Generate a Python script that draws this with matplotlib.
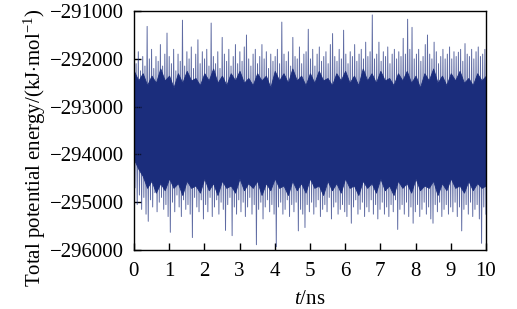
import numpy as np
import matplotlib
matplotlib.use("Agg")
import matplotlib.pyplot as plt

plt.rcParams['font.family'] = ['Liberation Serif', 'DejaVu Serif']
plt.rcParams['mathtext.fontset'] = 'custom'
plt.rcParams['mathtext.rm'] = 'Liberation Serif'
plt.rcParams['mathtext.it'] = 'Liberation Serif:italic'

# Ust ve alt tepe degerleri (kJ/mol), her satir ~1 ns
upper = [
    -291900, -292100, -291850, -292250, -291950, -292150, -291320, -292000, -291800, -292200, -291950, -292050, -291700, -292150, -291900, -291460,
    -291950, -292100, -291800, -292250, -291900, -292050, -291190, -292150, -291850, -292000, -291750, -292200, -291900, -291600, -292100, -291850,
    -292000, -291800, -292150, -291250, -291950, -292100, -291850, -292200, -291550, -291900, -292050, -291800, -292150, -291950, -291700, -292100,
    -291850, -292050, -291750, -291500, -292000, -292150, -291900, -291800, -292100, -291950, -291700, -292000, -291850, -292200, -291900, -292050,
    -291950, -291800, -292100, -291230, -291900, -292050, -291850, -292150, -291550, -291950, -292000, -291750, -292100, -291900, -291850, -291380,
    -292000, -291800, -292150, -291900, -291750, -292050, -291950, -291850, -292100, -291700, -291470, -291950, -292050, -291800, -292000, -291400,
    -291900, -292100, -291850, -291950, -291700, -292050, -291900, -291800, -292000, -291650, -291950, -291850, -291080, -292000, -291900, -291650,
    -292050, -291850, -291950, -291750, -292100, -291900, -291800, -292000, -291850, -291950, -291570, -291900, -291170, -291800, -291340, -292000,
    -291900, -291800, -292050, -291950, -291700, -291500, -291900, -292000, -291650, -291850, -292100, -291950, -291800, -292000, -291900, -291750,
    -292000, -291850, -291950, -291860, -291800, -292050, -291680, -291900, -291950, -291800, -292000, -291850, -291750, -291950, -291900, -291800,
]
lower = [
    -294700, -295050, -294850, -295150, -294900, -295250, -295400, -294950, -295100, -294800, -295200, -295000, -294900, -295150, -295050, -295300,
    -295630, -295000, -295200, -294850, -295100, -295300, -294950, -295150, -295050, -295250, -295740, -294900, -295100, -295200, -294950, -295350,
    -295050, -295200, -294900, -295300, -295100, -294950, -295250, -295000, -295150, -295590, -295050, -294900, -295700, -295100, -295250, -294950,
    -295200, -295000, -295300, -295100, -294900, -295250, -295050, -295890, -295150, -295000, -295350, -295100, -294950, -295200, -295050, -295250,
    -295930, -295100, -295000, -295250, -295150, -294950, -295300, -295050, -295200, -295000, -295600, -295150, -295250, -295530, -295050, -295200,
    -295000, -295250, -295100, -294950, -295300, -295150, -295050, -295200, -294900, -295350, -295100, -295000, -295250, -295150, -295050, -295200,
    -295300, -295050, -295440, -295100, -294950, -295250, -295150, -295000, -295300, -295100, -295200, -294950, -295250, -295050, -295350, -295150,
    -295000, -295250, -295100, -295300, -295050, -295200, -294950, -295570, -295150, -295050, -295250, -295000, -295300, -295100, -295440, -295200,
    -295050, -295300, -295150, -295000, -295250, -295100, -295350, -295440, -295050, -295200, -295000, -295300, -295150, -295050, -295250, -295100,
    -295200, -295000, -295300, -295100, -295600, -295150, -295050, -295250, -295000, -295300, -295150, -295050, -295350, -295860, -295100, -295250,
]
# yogun bolgenin (koyu bant) sinirlari, her 0.125 ns
core_top = [
    -292250, -292450, -292300, -292550, -292350, -292500, -292200, -292450, -292350, -292600,
    -292300, -292500, -292250, -292450, -292400, -292550, -292300, -292450, -292200, -292500,
    -292350, -292550, -292300, -292450, -292250, -292500, -292400, -292550, -292300, -292450,
    -292350, -292600, -292250, -292450, -292300, -292500, -292200, -292450, -292350, -292550,
    -292300, -292500, -292250, -292450, -292400, -292550, -292300, -292450, -292250, -292500,
    -292350, -292550, -292200, -292450, -292300, -292500, -292250, -292450, -292400, -292550,
    -292300, -292450, -292250, -292500, -292350, -292600, -292300, -292450, -292200, -292500,
    -292350, -292550, -292300, -292450, -292250, -292500, -292400, -292550, -292300, -292450,
    -292350,
]
core_bottom = [
    -294100, -294300, -294450, -294700, -294550, -294800, -294600, -294750, -294500, -294700,
    -294600, -294850, -294550, -294700, -294650, -294800, -294500, -294750, -294600, -294850,
    -294550, -294700, -294650, -294800, -294500, -294750, -294600, -294700, -294550, -294850,
    -294600, -294750, -294500, -294700, -294650, -294850, -294550, -294750, -294600, -294800,
    -294500, -294700, -294650, -294850, -294550, -294750, -294600, -294800, -294500, -294700,
    -294650, -294850, -294550, -294700, -294600, -294800, -294500, -294750, -294650, -294850,
    -294550, -294700, -294600, -294800, -294500, -294750, -294650, -294700, -294550, -294850,
    -294600, -294750, -294500, -294700, -294650, -294800, -294550, -294750, -294600, -294700,
    -294650,
]
x_ticks = [0, 1, 2, 3, 4, 5, 6, 7, 8, 9, 10]
y_ticks = [-296000, -295000, -294000, -293000, -292000, -291000]

# ust/alt degerleri sirayla birlestir
energy = np.empty(len(upper) + len(lower))
energy[0::2] = upper
energy[1::2] = lower
t = np.linspace(0, 10, len(energy))
t_core = np.linspace(0, 10, len(core_top))

line_color = '#1b2d7c'

fig = plt.figure(figsize=(5.17, 3.09), dpi=100)
ax = fig.add_axes([0.259, 0.191, 0.681, 0.773])
ax.plot(t, energy, color=line_color, linewidth=0.7, alpha=0.7)
ax.fill_between(t_core, core_bottom, core_top, color=line_color, linewidth=0.6)

ax.set_xlim(0, 10)
ax.set_ylim(-296000, -291000)
ax.set_xticks(x_ticks)
ax.set_yticks(y_ticks)
ax.yaxis.get_major_formatter().set_useOffset(False)
ax.tick_params(direction='in', length=5, width=1, labelsize=15)
ax.tick_params(axis='y', pad=7)
ax.tick_params(axis='x', pad=9)
for s in ax.spines.values():
    s.set_linewidth(1)

ax.set_xlabel(r'$t$/ns', fontsize=15, labelpad=6)
ax.set_ylabel(r'Total potential energy/(kJ$\cdot$mol$^{-1}$)', fontsize=15)
ax.yaxis.set_label_coords(-0.245, 0.427)

plt.savefig('out.png', dpi=100)
